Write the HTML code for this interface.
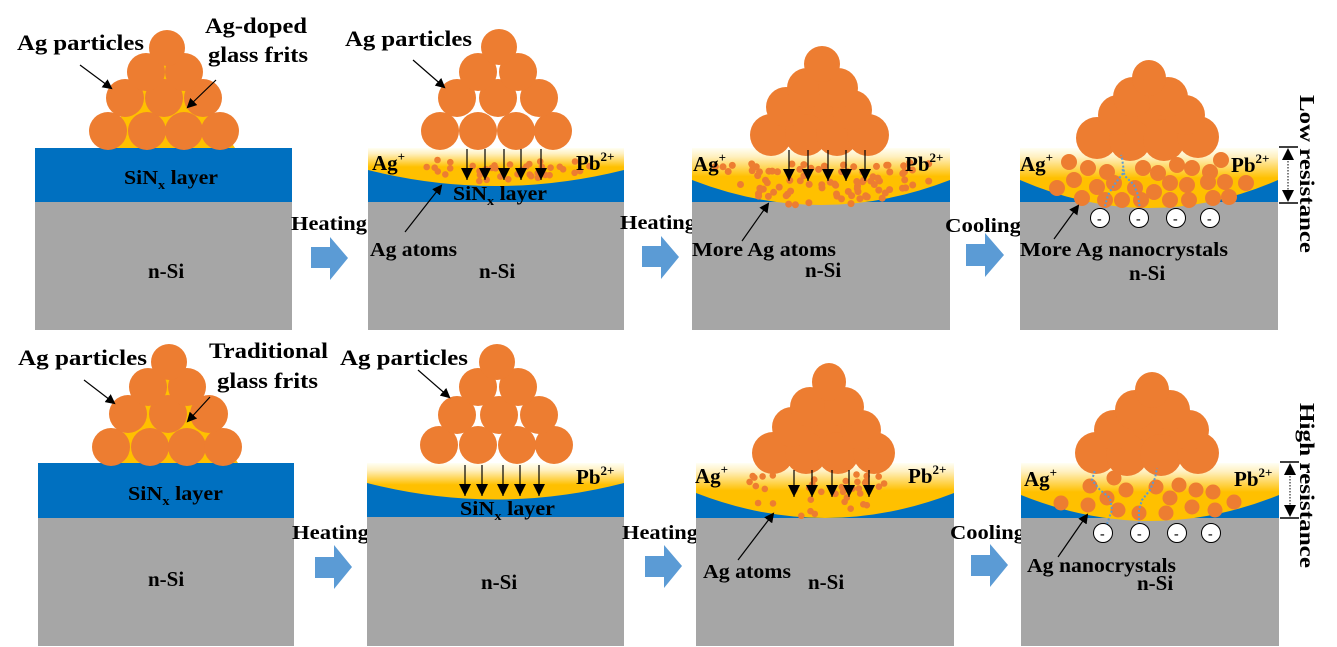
<!DOCTYPE html>
<html><head><meta charset="utf-8"><style>
html,body{margin:0;padding:0;background:#fff;}
svg{display:block;}
text{font-family:"Liberation Serif",serif;font-weight:bold;fill:#000;}
</style></head><body>
<svg id="s" width="1337" height="647" viewBox="0 0 1337 647" xmlns="http://www.w3.org/2000/svg">
<defs>
<linearGradient id="yg" x1="0" y1="0" x2="0" y2="1">
<stop offset="0" stop-color="#FFFFF4"/><stop offset="0.15" stop-color="#FFF0C0"/><stop offset="0.5" stop-color="#FFC000"/><stop offset="1" stop-color="#FFC000"/>
</linearGradient>
<linearGradient id="yg2" x1="0" y1="0" x2="0" y2="1">
<stop offset="0" stop-color="#FFFFF4"/><stop offset="0.2" stop-color="#FFF0C0"/><stop offset="0.6" stop-color="#FFC000"/><stop offset="1" stop-color="#FFC000"/>
</linearGradient>
<marker id="ah" markerWidth="10" markerHeight="10" refX="8" refY="5" orient="auto" markerUnits="userSpaceOnUse">
<path d="M0,0 L10,5 L0,10 z" fill="#000"/></marker>
<marker id="dh" markerWidth="12" markerHeight="14" refX="12" refY="6" orient="auto" markerUnits="userSpaceOnUse">
<path d="M0,0 L12,6 L0,12 z" fill="#000"/></marker>
</defs>

<!-- ===== TOP ROW ===== -->
<rect x="35" y="148" width="257" height="54" fill="#0070C0"/>
<rect x="35" y="202" width="257" height="128" fill="#A6A6A6"/>
<polygon points="100,148 235,148 210,110 167,55 125,110" fill="#FFC000"/>
<g fill="#ED7D31">
<circle cx="108" cy="131" r="19"/><circle cx="147" cy="131" r="19"/><circle cx="184" cy="131" r="19"/><circle cx="220" cy="131" r="19"/>
<circle cx="125" cy="98" r="19"/><circle cx="164" cy="98" r="19"/><circle cx="203" cy="98" r="19"/>
<circle cx="146" cy="72" r="19"/><circle cx="184" cy="72" r="19"/>
<circle cx="167" cy="48" r="18"/>
</g>
<text x="17" y="50" font-size="22" textLength="127" lengthAdjust="spacingAndGlyphs">Ag particles</text>
<text x="205" y="33" font-size="22" textLength="102" lengthAdjust="spacingAndGlyphs">Ag-doped</text>
<text x="208" y="62" font-size="22" textLength="100" lengthAdjust="spacingAndGlyphs">glass frits</text>
<line x1="80" y1="65" x2="111" y2="88" stroke="#000" stroke-width="1.2" marker-end="url(#ah)"/>
<line x1="216" y1="80" x2="188" y2="107" stroke="#000" stroke-width="1.2" marker-end="url(#ah)"/>
<text x="124" y="184" font-size="20" textLength="94" lengthAdjust="spacingAndGlyphs">SiN<tspan font-size="13" dy="5">x</tspan><tspan dy="-5"> layer</tspan></text>
<text x="148" y="278" font-size="21">n-Si</text>

<text x="291" y="230" font-size="20" textLength="76" lengthAdjust="spacingAndGlyphs">Heating</text>
<polygon points="311,247 330,247 330,237 348,258 330,280 330,268 311,268" fill="#5B9BD5"/>

<!-- panel 2 -->
<rect x="368" y="148" width="256" height="54" fill="#0070C0"/>
<rect x="368" y="202" width="256" height="128" fill="#A6A6A6"/>
<path d="M368,148 L624,148 L624,170 Q496,202 368,170 Z" fill="url(#yg)"/>
<g id="d2" fill="#ED7D31"></g>
<g fill="#ED7D31">
<circle cx="440" cy="131" r="19"/><circle cx="478" cy="131" r="19"/><circle cx="516" cy="131" r="19"/><circle cx="553" cy="131" r="19"/>
<circle cx="457" cy="98" r="19"/><circle cx="498" cy="98" r="19"/><circle cx="539" cy="98" r="19"/>
<circle cx="478" cy="72" r="19"/><circle cx="518" cy="72" r="19"/>
<circle cx="499" cy="47" r="18"/>
</g>
<g stroke="#000" stroke-width="1.2">
<line x1="467" y1="149" x2="467" y2="180" marker-end="url(#dh)"/>
<line x1="485" y1="149" x2="485" y2="180" marker-end="url(#dh)"/>
<line x1="504" y1="149" x2="504" y2="180" marker-end="url(#dh)"/>
<line x1="521" y1="149" x2="521" y2="180" marker-end="url(#dh)"/>
<line x1="541" y1="149" x2="541" y2="180" marker-end="url(#dh)"/>
</g>
<text x="345" y="46" font-size="22" textLength="127" lengthAdjust="spacingAndGlyphs">Ag particles</text>
<line x1="413" y1="60" x2="444" y2="87" stroke="#000" stroke-width="1.2" marker-end="url(#ah)"/>
<text x="372" y="170" font-size="21">Ag<tspan font-size="13" dy="-9">+</tspan></text>
<text x="576" y="170" font-size="21">Pb<tspan font-size="13" dy="-9">2+</tspan></text>
<text x="453" y="200" font-size="20" textLength="94" lengthAdjust="spacingAndGlyphs">SiN<tspan font-size="13" dy="5">x</tspan><tspan dy="-5"> layer</tspan></text>
<line x1="405" y1="232" x2="441" y2="186" stroke="#000" stroke-width="1.2" marker-end="url(#ah)"/>
<text x="370" y="256" font-size="20" textLength="87" lengthAdjust="spacingAndGlyphs">Ag atoms</text>
<text x="479" y="278" font-size="21">n-Si</text>

<text x="620" y="229" font-size="20" textLength="76" lengthAdjust="spacingAndGlyphs">Heating</text>
<polygon points="642,246 661,246 661,236 679,257 661,279 661,267 642,267" fill="#5B9BD5"/>

<!-- panel 3 -->
<rect x="692" y="148" width="258" height="54" fill="#0070C0"/>
<rect x="692" y="202" width="258" height="128" fill="#A6A6A6"/>
<path d="M692,148 L950,148 L950,180 Q821,230 692,180 Z" fill="url(#yg)"/>
<g id="d3" fill="#ED7D31"></g>
<g fill="#ED7D31">
<polygon points="770,140 822,55 870,140"/>
<ellipse cx="771" cy="135" rx="21" ry="21"/><ellipse cx="806" cy="135" rx="21" ry="21"/><ellipse cx="837" cy="135" rx="21" ry="21"/><ellipse cx="868" cy="135" rx="21" ry="21"/>
<ellipse cx="786" cy="107" rx="20" ry="20"/><ellipse cx="852" cy="110" rx="20" ry="20"/>
<ellipse cx="807" cy="88" rx="20" ry="20"/><ellipse cx="838" cy="88" rx="20" ry="20"/>
<ellipse cx="822" cy="64" rx="18" ry="18"/>
</g>
<g stroke="#000" stroke-width="1.2">
<line x1="789" y1="150" x2="789" y2="181" marker-end="url(#dh)"/>
<line x1="808" y1="150" x2="808" y2="181" marker-end="url(#dh)"/>
<line x1="828" y1="150" x2="828" y2="181" marker-end="url(#dh)"/>
<line x1="846" y1="150" x2="846" y2="181" marker-end="url(#dh)"/>
<line x1="865" y1="150" x2="865" y2="181" marker-end="url(#dh)"/>
</g>
<text x="693" y="171" font-size="21">Ag<tspan font-size="13" dy="-9">+</tspan></text>
<text x="905" y="171" font-size="21">Pb<tspan font-size="13" dy="-9">2+</tspan></text>
<line x1="742" y1="241" x2="768" y2="204" stroke="#000" stroke-width="1.2" marker-end="url(#ah)"/>
<text x="692" y="256" font-size="20" textLength="144" lengthAdjust="spacingAndGlyphs">More Ag atoms</text>
<text x="805" y="277" font-size="21">n-Si</text>

<text x="945" y="232" font-size="20" textLength="76" lengthAdjust="spacingAndGlyphs">Cooling</text>
<polygon points="966,244 985,244 985,233 1004,255 985,277 985,266 966,266" fill="#5B9BD5"/>

<!-- panel 4 -->
<rect x="1020" y="148" width="258" height="54" fill="#0070C0"/>
<rect x="1020" y="202" width="258" height="128" fill="#A6A6A6"/>
<path d="M1020,148 L1278,148 L1278,180 Q1149,236 1020,180 Z" fill="url(#yg)"/>
<g id="d4" fill="#ED7D31"></g>
<g fill="#ED7D31">
<polygon points="1097,142 1149,65 1200,142"/>
<ellipse cx="1097" cy="138" rx="21" ry="21"/><ellipse cx="1130" cy="140" rx="21" ry="21"/><ellipse cx="1164" cy="140" rx="21" ry="21"/><ellipse cx="1198" cy="137" rx="21" ry="21"/>
<ellipse cx="1118" cy="115" rx="20" ry="20"/><ellipse cx="1185" cy="115" rx="20" ry="20"/>
<ellipse cx="1133" cy="97" rx="20" ry="20"/><ellipse cx="1168" cy="97" rx="20" ry="20"/>
<ellipse cx="1149" cy="78" rx="17" ry="18"/>
</g>
<g fill="none" stroke="#5B9BD5" stroke-width="2" stroke-dasharray="2,2">
<polyline points="1104,210 1108,195 1114,185 1124,172 1122,158 1121,155"/>
<polyline points="1140,210 1138,195 1134,185 1125,176 1122,168"/>
</g>
<g fill="#fff" stroke="#000" stroke-width="1">
<circle cx="1100" cy="218" r="9.5"/><circle cx="1139" cy="218" r="9.5"/><circle cx="1176" cy="218" r="9.5"/><circle cx="1210" cy="218" r="9.5"/>
</g>
<g font-size="14"><text x="1097" y="223">-</text><text x="1136" y="223">-</text><text x="1173" y="223">-</text><text x="1207" y="223">-</text></g>
<text x="1020" y="171" font-size="21">Ag<tspan font-size="13" dy="-9">+</tspan></text>
<text x="1231" y="172" font-size="21">Pb<tspan font-size="13" dy="-9">2+</tspan></text>
<line x1="1054" y1="239" x2="1078" y2="206" stroke="#000" stroke-width="1.2" marker-end="url(#ah)"/>
<text x="1020" y="256" font-size="20" textLength="208" lengthAdjust="spacingAndGlyphs">More Ag nanocrystals</text>
<text x="1129" y="280" font-size="21">n-Si</text>

<g stroke="#000" stroke-width="1.5">
<line x1="1279" y1="147" x2="1298" y2="147"/><line x1="1279" y1="203" x2="1298" y2="203"/>
<line x1="1288" y1="158" x2="1288" y2="192" stroke-width="1" stroke-dasharray="1.5,1.5"/>
</g>
<polygon points="1288,148 1282,160 1294,160" fill="#000"/>
<polygon points="1288,202 1282,190 1294,190" fill="#000"/>
<text x="0" y="0" font-size="21" transform="translate(1300,95) rotate(90)" textLength="158" lengthAdjust="spacingAndGlyphs">Low resistance</text>

<!-- ===== BOTTOM ROW ===== -->
<rect x="38" y="463" width="256" height="55" fill="#0070C0"/>
<rect x="38" y="518" width="256" height="128" fill="#A6A6A6"/>
<polygon points="103,463 238,463 213,425 170,370 128,425" fill="#FFC000"/>
<g fill="#ED7D31">
<circle cx="111" cy="447" r="19"/><circle cx="150" cy="447" r="19"/><circle cx="187" cy="447" r="19"/><circle cx="223" cy="447" r="19"/>
<circle cx="128" cy="414" r="19"/><circle cx="168" cy="414" r="19"/><circle cx="209" cy="414" r="19"/>
<circle cx="148" cy="387" r="19"/><circle cx="187" cy="387" r="19"/>
<circle cx="169" cy="362" r="18"/>
</g>
<text x="18" y="365" font-size="22" textLength="129" lengthAdjust="spacingAndGlyphs">Ag particles</text>
<text x="209" y="358" font-size="22" textLength="119" lengthAdjust="spacingAndGlyphs">Traditional</text>
<text x="217" y="388" font-size="22" textLength="101" lengthAdjust="spacingAndGlyphs">glass frits</text>
<line x1="84" y1="380" x2="114" y2="403" stroke="#000" stroke-width="1.2" marker-end="url(#ah)"/>
<line x1="210" y1="397" x2="188" y2="421" stroke="#000" stroke-width="1.2" marker-end="url(#ah)"/>
<text x="128" y="500" font-size="20" textLength="95" lengthAdjust="spacingAndGlyphs">SiN<tspan font-size="13" dy="5">x</tspan><tspan dy="-5"> layer</tspan></text>
<text x="148" y="586" font-size="21">n-Si</text>

<text x="292" y="539" font-size="20" textLength="77" lengthAdjust="spacingAndGlyphs">Heating</text>
<polygon points="315,557 334,557 334,545 352,567 334,589 334,578 315,578" fill="#5B9BD5"/>

<!-- panel 2 -->
<rect x="367" y="463" width="257" height="54" fill="#0070C0"/>
<rect x="367" y="517" width="257" height="129" fill="#A6A6A6"/>
<path d="M367,463 L624,463 L624,483 Q496,516 367,483 Z" fill="url(#yg2)"/>
<g fill="#ED7D31">
<circle cx="439" cy="445" r="19"/><circle cx="478" cy="445" r="19"/><circle cx="517" cy="445" r="19"/><circle cx="554" cy="445" r="19"/>
<circle cx="457" cy="415" r="19"/><circle cx="499" cy="415" r="19"/><circle cx="539" cy="415" r="19"/>
<circle cx="478" cy="387" r="19"/><circle cx="518" cy="387" r="19"/>
<circle cx="497" cy="362" r="18"/>
</g>
<g stroke="#000" stroke-width="1.2">
<line x1="465" y1="465" x2="465" y2="496" marker-end="url(#dh)"/>
<line x1="482" y1="465" x2="482" y2="496" marker-end="url(#dh)"/>
<line x1="503" y1="465" x2="503" y2="496" marker-end="url(#dh)"/>
<line x1="520" y1="465" x2="520" y2="496" marker-end="url(#dh)"/>
<line x1="539" y1="465" x2="539" y2="496" marker-end="url(#dh)"/>
</g>
<text x="340" y="365" font-size="22" textLength="128" lengthAdjust="spacingAndGlyphs">Ag particles</text>
<line x1="418" y1="370" x2="449" y2="397" stroke="#000" stroke-width="1.2" marker-end="url(#ah)"/>
<text x="576" y="484" font-size="21">Pb<tspan font-size="13" dy="-9">2+</tspan></text>
<text x="460" y="515" font-size="20" textLength="95" lengthAdjust="spacingAndGlyphs">SiN<tspan font-size="13" dy="5">x</tspan><tspan dy="-5"> layer</tspan></text>
<text x="481" y="589" font-size="21">n-Si</text>

<text x="622" y="539" font-size="20" textLength="76" lengthAdjust="spacingAndGlyphs">Heating</text>
<polygon points="645,556 664,556 664,545 682,566 664,588 664,577 645,577" fill="#5B9BD5"/>

<!-- panel 3 -->
<rect x="696" y="463" width="258" height="55" fill="#0070C0"/>
<rect x="696" y="518" width="258" height="128" fill="#A6A6A6"/>
<path d="M696,463 L954,463 L954,493 Q825,543 696,493 Z" fill="url(#yg)"/>
<g id="d5" fill="#ED7D31"></g>
<g fill="#ED7D31">
<polygon points="773,458 829,375 875,458"/>
<ellipse cx="773" cy="453" rx="21" ry="21"/><ellipse cx="806" cy="453" rx="21" ry="21"/><ellipse cx="838" cy="453" rx="21" ry="21"/><ellipse cx="874" cy="453" rx="21" ry="21"/>
<ellipse cx="792" cy="427" rx="20" ry="20"/><ellipse cx="861" cy="430" rx="20" ry="20"/>
<ellipse cx="810" cy="407" rx="20" ry="20"/><ellipse cx="844" cy="407" rx="20" ry="20"/>
<ellipse cx="829" cy="382" rx="17" ry="19"/>
</g>
<g stroke="#000" stroke-width="1.2">
<line x1="794" y1="470" x2="794" y2="497" marker-end="url(#dh)"/>
<line x1="812" y1="470" x2="812" y2="497" marker-end="url(#dh)"/>
<line x1="832" y1="470" x2="832" y2="497" marker-end="url(#dh)"/>
<line x1="849" y1="470" x2="849" y2="497" marker-end="url(#dh)"/>
<line x1="869" y1="470" x2="869" y2="497" marker-end="url(#dh)"/>
</g>
<text x="695" y="483" font-size="21">Ag<tspan font-size="13" dy="-9">+</tspan></text>
<text x="908" y="483" font-size="21">Pb<tspan font-size="13" dy="-9">2+</tspan></text>
<line x1="738" y1="560" x2="773" y2="514" stroke="#000" stroke-width="1.2" marker-end="url(#ah)"/>
<text x="703" y="578" font-size="20" textLength="88" lengthAdjust="spacingAndGlyphs">Ag atoms</text>
<text x="808" y="589" font-size="21">n-Si</text>

<text x="950" y="539" font-size="20" textLength="75" lengthAdjust="spacingAndGlyphs">Cooling</text>
<polygon points="971,555 990,555 990,544 1008,565 990,587 990,576 971,576" fill="#5B9BD5"/>

<!-- panel 4 -->
<rect x="1021" y="463" width="258" height="55" fill="#0070C0"/>
<rect x="1021" y="518" width="258" height="128" fill="#A6A6A6"/>
<path d="M1021,463 L1279,463 L1279,495 Q1150,547 1021,495 Z" fill="url(#yg)"/>
<g fill="#ED7D31">
<circle cx="1114" cy="478" r="7.5"/><circle cx="1090" cy="486" r="7.5"/><circle cx="1126" cy="490" r="7.5"/>
<circle cx="1156" cy="487" r="7.5"/><circle cx="1179" cy="485" r="7.5"/><circle cx="1196" cy="490" r="7.5"/><circle cx="1213" cy="492" r="7.5"/>
<circle cx="1061" cy="503" r="7.5"/><circle cx="1088" cy="505" r="7.5"/><circle cx="1107" cy="498" r="7.5"/><circle cx="1118" cy="510" r="7.5"/>
<circle cx="1139" cy="513" r="7.5"/><circle cx="1166" cy="513" r="7.5"/><circle cx="1170" cy="498" r="7.5"/><circle cx="1192" cy="507" r="7.5"/>
<circle cx="1215" cy="510" r="7.5"/><circle cx="1234" cy="502" r="7.5"/>
</g>
<g fill="#ED7D31">
<polygon points="1098,458 1152,380 1200,458"/>
<ellipse cx="1096" cy="453" rx="21" ry="21"/><ellipse cx="1127" cy="455" rx="21" ry="21"/><ellipse cx="1161" cy="455" rx="21" ry="21"/><ellipse cx="1198" cy="453" rx="21" ry="21"/>
<ellipse cx="1114" cy="430" rx="20" ry="20"/><ellipse cx="1189" cy="430" rx="20" ry="20"/>
<ellipse cx="1135" cy="410" rx="20" ry="20"/><ellipse cx="1170" cy="410" rx="20" ry="20"/>
<ellipse cx="1152" cy="390" rx="17" ry="18"/>
</g>
<g fill="none" stroke="#5B9BD5" stroke-width="2" stroke-dasharray="2,2">
<polyline points="1107,524 1112,510 1110,498 1100,490 1092,480 1095,470"/>
<polyline points="1139,524 1139,510 1142,500 1150,490 1155,478 1157,468"/>
</g>
<g fill="#fff" stroke="#000" stroke-width="1">
<circle cx="1103" cy="533" r="9.5"/><circle cx="1140" cy="533" r="9.5"/><circle cx="1177" cy="533" r="9.5"/><circle cx="1211" cy="533" r="9.5"/>
</g>
<g font-size="14"><text x="1100" y="538">-</text><text x="1137" y="538">-</text><text x="1174" y="538">-</text><text x="1208" y="538">-</text></g>
<text x="1024" y="486" font-size="21">Ag<tspan font-size="13" dy="-9">+</tspan></text>
<text x="1234" y="486" font-size="21">Pb<tspan font-size="13" dy="-9">2+</tspan></text>
<line x1="1058" y1="557" x2="1087" y2="515" stroke="#000" stroke-width="1.2" marker-end="url(#ah)"/>
<text x="1027" y="572" font-size="20" textLength="149" lengthAdjust="spacingAndGlyphs">Ag nanocrystals</text>
<text x="1137" y="590" font-size="21">n-Si</text>

<g stroke="#000" stroke-width="1.5">
<line x1="1280" y1="462" x2="1299" y2="462"/><line x1="1280" y1="518" x2="1299" y2="518"/>
<line x1="1290" y1="473" x2="1290" y2="507" stroke-width="1" stroke-dasharray="1.5,1.5"/>
</g>
<polygon points="1290,463 1284,475 1296,475" fill="#000"/>
<polygon points="1290,517 1284,505 1296,505" fill="#000"/>
<text x="0" y="0" font-size="21" transform="translate(1300,403) rotate(90)" textLength="165" lengthAdjust="spacingAndGlyphs">High resistance</text>
</svg>
<script>
(function(){
var seed=7;function r(){seed=(seed*16807)%2147483647;return (seed-1)/2147483646;}
var NS="http://www.w3.org/2000/svg";
function fill(id,n,x0,x1,y0,yc,ye,xc,rad,ymin){
 var g=document.getElementById(id);var c=0,t=0;
 while(c<n&&t<5000){t++;var x=x0+r()*(x1-x0);var y=y0+r()*(yc-y0);
  var u=(x-xc)/((x1-x0)/2);var yb=ye+(yc-ye)*(1-u*u);
  if(y>yb-3||y<ymin)continue;
  var e=document.createElementNS(NS,"circle");e.setAttribute("cx",x.toFixed(1));e.setAttribute("cy",y.toFixed(1));e.setAttribute("r",rad);g.appendChild(e);c++;}
}
fill("d2",40,425,590,160,188,174,505,3.3,160);
fill("d3",90,715,930,160,210,186,822,3.5,162);
fill("d5",40,745,885,474,520,502,812,3.3,474);
var d4=[[1069,162],[1088,168],[1107,172],[1143,168],[1158,173],[1177,165],[1192,168],[1210,172],[1221,160],[1057,188],[1074,180],[1097,187],[1114,183],[1135,188],[1154,192],[1170,183],[1187,185],[1208,182],[1225,182],[1246,183],[1082,198],[1105,200],[1122,200],[1141,200],[1170,200],[1189,200],[1213,198],[1229,197]];
var g=document.getElementById("d4");
d4.forEach(function(p){var e=document.createElementNS(NS,"circle");e.setAttribute("cx",p[0]);e.setAttribute("cy",p[1]);e.setAttribute("r",8);g.appendChild(e);});
})();
</script>
</body></html>
